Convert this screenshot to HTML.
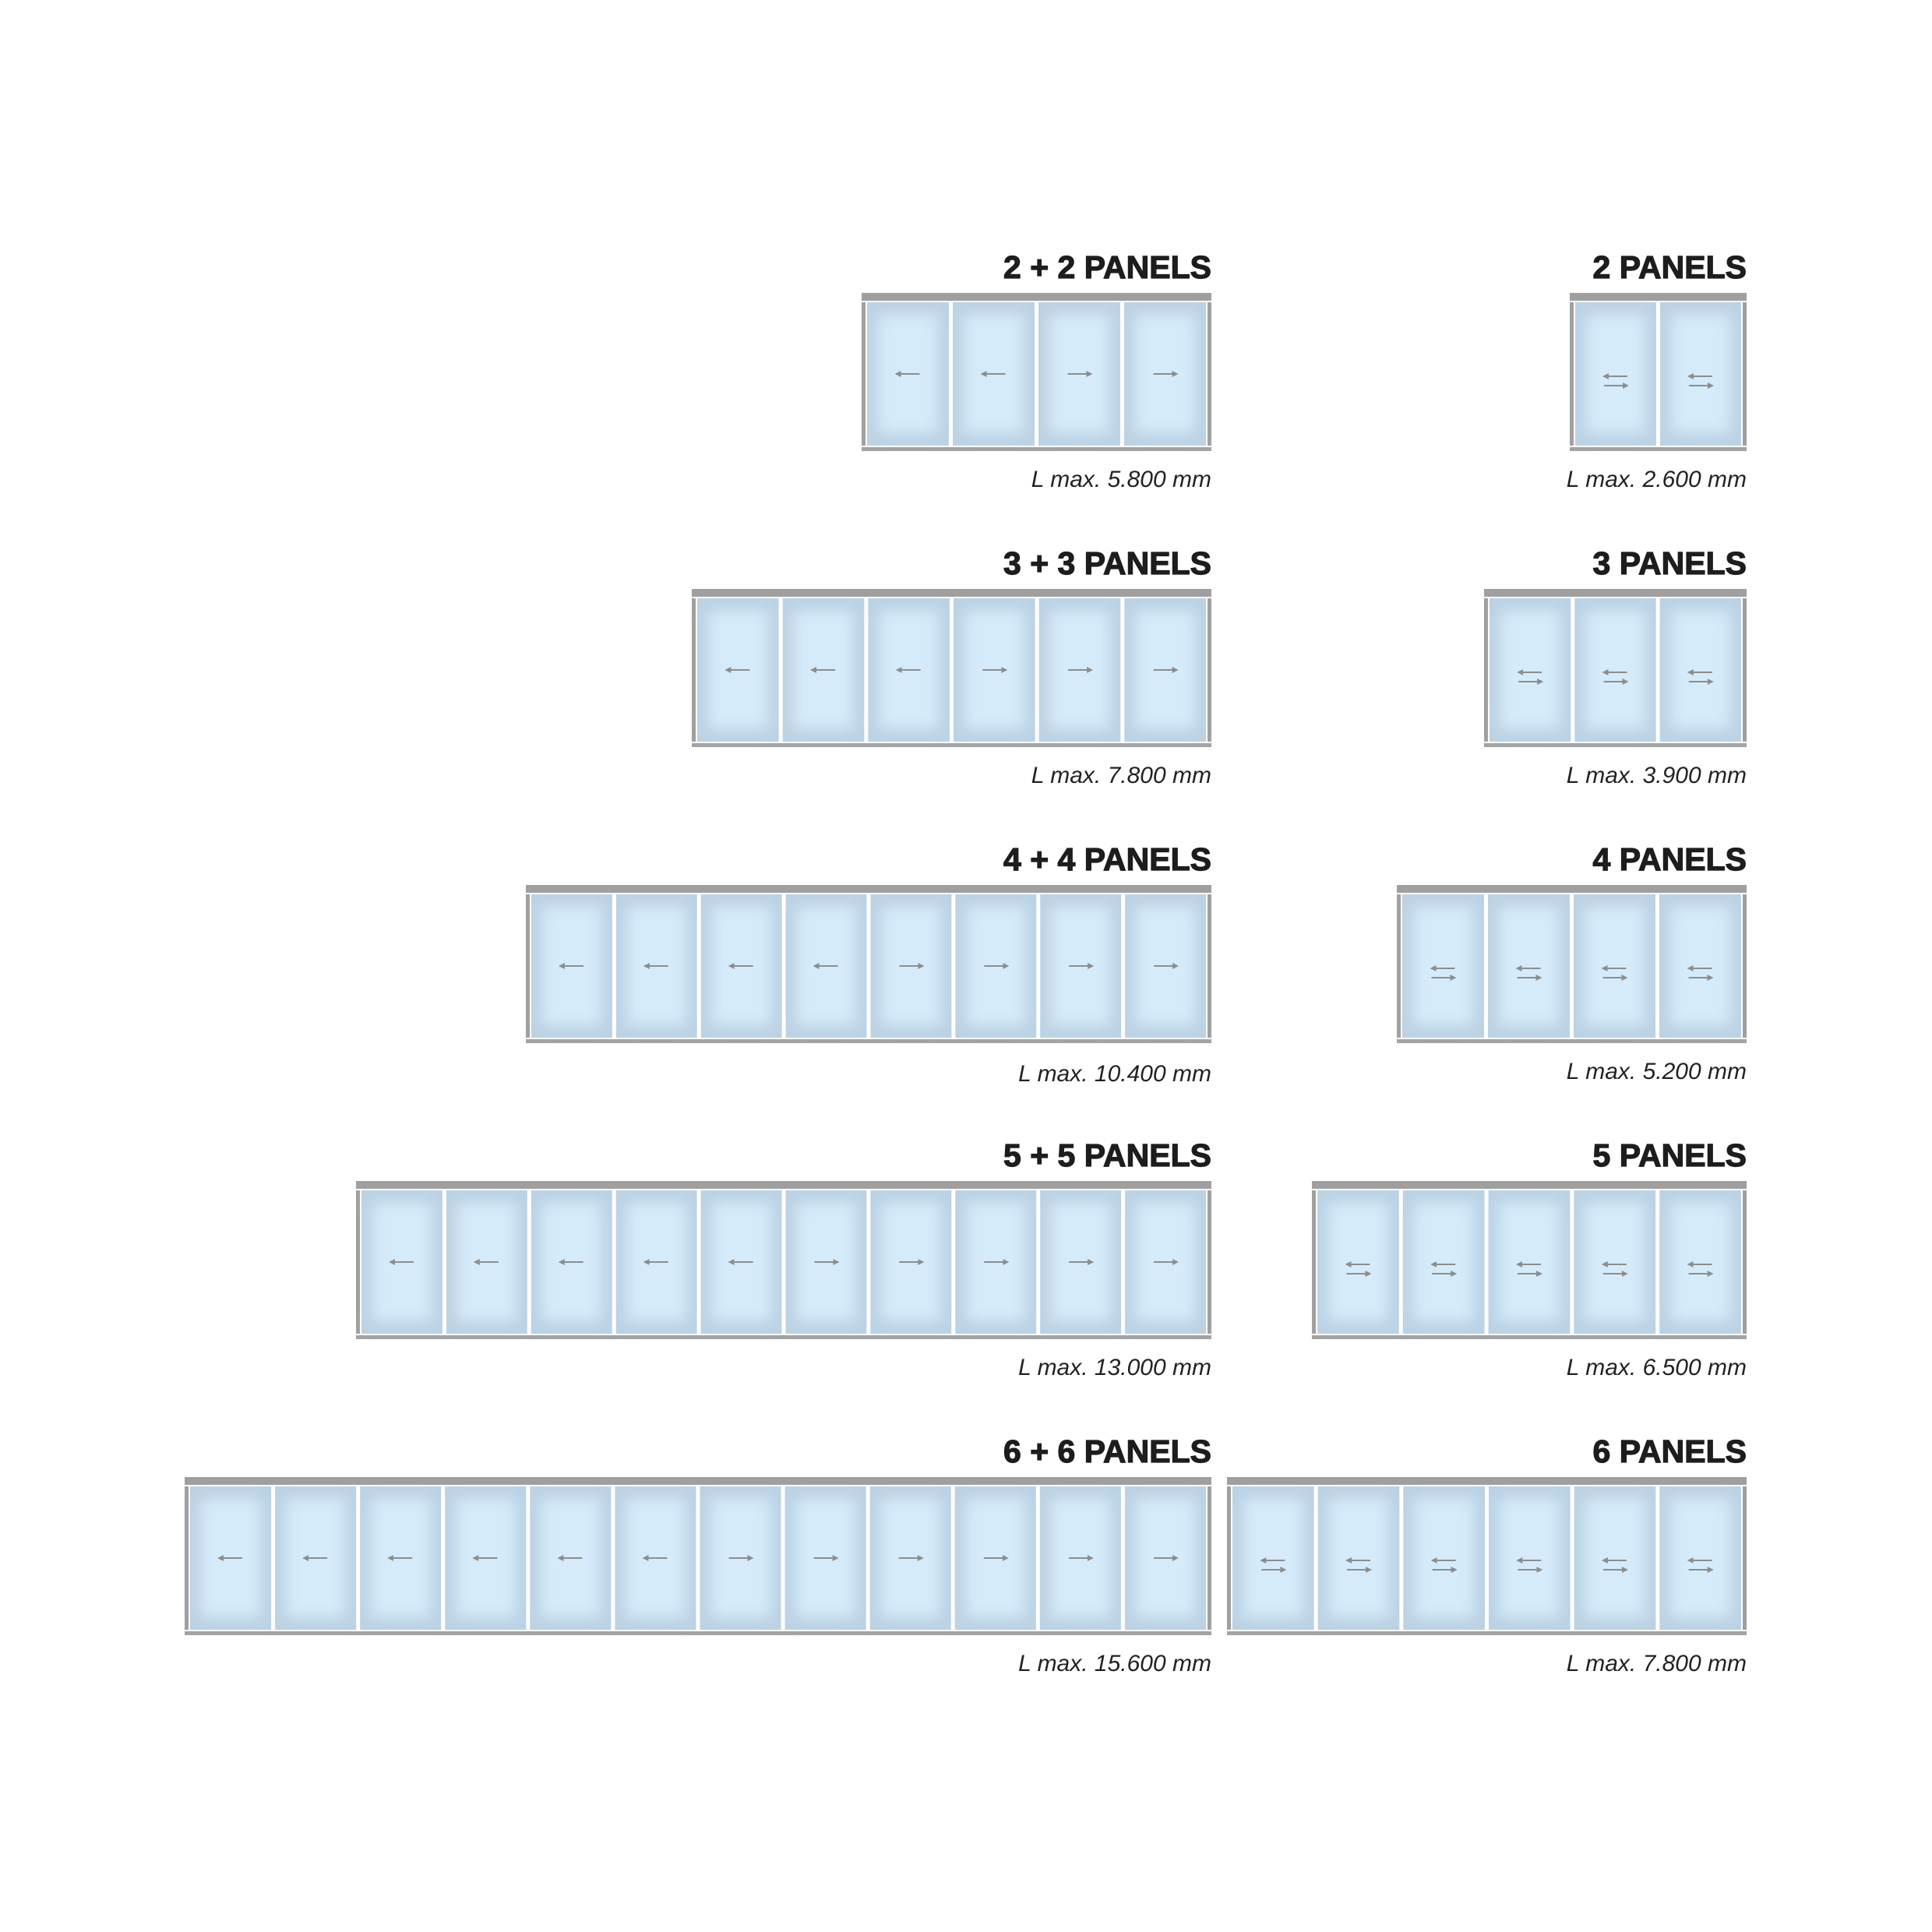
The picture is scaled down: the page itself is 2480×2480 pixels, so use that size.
<!DOCTYPE html>
<html><head><meta charset="utf-8"><style>
html,body{margin:0;padding:0;background:#fff;}
svg{display:block;}
.t{font-family:"Liberation Sans",sans-serif;font-weight:bold;font-size:41px;fill:#1d1d1d;stroke:#1d1d1d;stroke-width:1.2px;}
.l{font-family:"Liberation Sans",sans-serif;font-style:italic;font-size:30px;fill:#222;}
</style></head><body>
<svg id="s" width="2480" height="2480" viewBox="0 0 2480 2480" xmlns="http://www.w3.org/2000/svg">
<defs>
<filter id="bl" x="-20%" y="-20%" width="140%" height="140%"><feGaussianBlur stdDeviation="9"/></filter>
<marker id="ah" markerWidth="8" markerHeight="8" refX="4" refY="4" orient="auto" markerUnits="userSpaceOnUse"><path d="M0,0 L8,4 L0,8 z" fill="#8d8d8d"/></marker>
</defs>
<rect width="2480" height="2480" fill="#fff"/>
<g id="g"></g>
<text class="t" x="1555" y="357" text-anchor="end">2 + 2 PANELS</text>
<text class="t" x="2242" y="357" text-anchor="end">2 PANELS</text>
<text class="l" x="1555" y="625" text-anchor="end">L max. 5.800 mm</text>
<text class="l" x="2242" y="625" text-anchor="end">L max. 2.600 mm</text>
<text class="t" x="1555" y="737" text-anchor="end">3 + 3 PANELS</text>
<text class="t" x="2242" y="737" text-anchor="end">3 PANELS</text>
<text class="l" x="1555" y="1005" text-anchor="end">L max. 7.800 mm</text>
<text class="l" x="2242" y="1005" text-anchor="end">L max. 3.900 mm</text>
<text class="t" x="1555" y="1117" text-anchor="end">4 + 4 PANELS</text>
<text class="t" x="2242" y="1117" text-anchor="end">4 PANELS</text>
<text class="l" x="1555" y="1388" text-anchor="end">L max. 10.400 mm</text>
<text class="l" x="2242" y="1385" text-anchor="end">L max. 5.200 mm</text>
<text class="t" x="1555" y="1497" text-anchor="end">5 + 5 PANELS</text>
<text class="t" x="2242" y="1497" text-anchor="end">5 PANELS</text>
<text class="l" x="1555" y="1765" text-anchor="end">L max. 13.000 mm</text>
<text class="l" x="2242" y="1765" text-anchor="end">L max. 6.500 mm</text>
<text class="t" x="1555" y="1877" text-anchor="end">6 + 6 PANELS</text>
<text class="t" x="2242" y="1877" text-anchor="end">6 PANELS</text>
<text class="l" x="1555" y="2145" text-anchor="end">L max. 15.600 mm</text>
<text class="l" x="2242" y="2145" text-anchor="end">L max. 7.800 mm</text>
</svg>
<script>
(function(){
var NS="http://www.w3.org/2000/svg",g=document.getElementById("g");
function el(n,a){var e=document.createElementNS(NS,n);for(var k in a)e.setAttribute(k,a[k]);g.appendChild(e);return e;}
function arrow(x1,x2,y){el("line",{x1:x1,y1:y,x2:x2,y2:y,stroke:"#8d8d8d","stroke-width":2,"marker-end":"url(#ah)"});}
function diag(L,R,N,dy,dbl){
  el("rect",{x:L,y:376+dy,width:R-L,height:10,fill:"#9f9f9f"});
  el("rect",{x:L,y:574+dy,width:R-L,height:5,fill:"#a3a3a3"});
  el("rect",{x:L,y:388+dy,width:5,height:184,fill:"#a0a0a0"});
  el("rect",{x:R-5,y:388+dy,width:5,height:184,fill:"#a0a0a0"});
  var x0=L+7,x1=R-7,gap=5,w=(x1-x0-gap*(N-1))/N;
  for(var i=0;i<N;i++){
    var px=x0+i*(w+gap),py=388+dy,ph=184;
    el("rect",{x:px,y:py,width:w,height:ph,fill:"#bad2e4"});
    el("rect",{x:px+14,y:py+16,width:w-28,height:ph-32,fill:"#d5ebfa",filter:"url(#bl)"});
    var cx=px+w/2;
    if(dbl){arrow(cx+15,cx-13,py+95);arrow(cx-15,cx+13,py+107);}
    else if(i<N/2){arrow(cx+15,cx-13,py+92);}
    else{arrow(cx-15,cx+13,py+92);}
  }
}
var lefts=[1106,888,675,457,237],rights=[2015,1905,1793,1684,1575];
for(var r=0;r<5;r++){
  var dy=380*r,n=r+2;
  diag(lefts[r],1555,n*2,dy,false);
  diag(rights[r],2242,n,dy,true);
}
})();
</script>
</body></html>
